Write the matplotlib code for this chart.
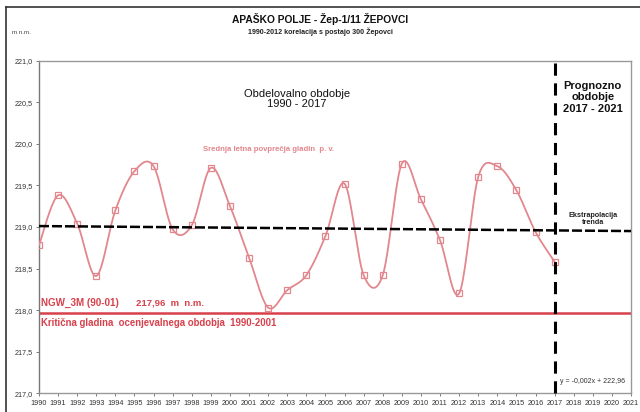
import numpy as np
import matplotlib
matplotlib.use("Agg")
import matplotlib.pyplot as plt
from matplotlib.lines import Line2D

plt.rcParams["font.family"] = ["Liberation Sans", "DejaVu Sans"]

# annual mean groundwater level (m n.m.)
years = list(range(1990, 2018))
levels = [218.78, 219.38, 219.04, 218.41, 219.20, 219.67, 219.73, 218.97, 219.02, 219.71,
          219.25, 218.63, 218.03, 218.24, 218.42, 218.89, 219.52, 218.42, 218.42, 219.76,
          219.33, 218.84, 218.20, 219.60, 219.73, 219.44, 218.94, 218.58]
trend_x = [1990, 2021]
trend_y = [219.01, 218.95]
ngw = 217.96
split_year = 2017
yticks = [217.0, 217.5, 218.0, 218.5, 219.0, 219.5, 220.0, 220.5, 221.0]
xticks = list(range(1990, 2022))

PINK = "#e2878d"
RED = "#d8404c"


def smooth(x, y, n=20):
    # Excel-like smoothed line (Catmull-Rom through the points)
    x = np.asarray(x, float); y = np.asarray(y, float)
    px = np.r_[x[0], x, x[-1]]; py = np.r_[y[0], y, y[-1]]
    xs, ys = [], []
    t = np.linspace(0, 1, n, endpoint=False)
    for i in range(1, len(px) - 2):
        p0, p1, p2, p3 = [np.array([px[j], py[j]]) for j in (i - 1, i, i + 1, i + 2)]
        c1 = p1 + (p2 - p0) / 6; c2 = p2 - (p3 - p1) / 6
        b = ((1 - t) ** 3)[:, None] * p1 + (3 * (1 - t) ** 2 * t)[:, None] * c1 \
            + (3 * (1 - t) * t ** 2)[:, None] * c2 + (t ** 3)[:, None] * p2
        xs.extend(b[:, 0]); ys.extend(b[:, 1])
    xs.append(x[-1]); ys.append(y[-1])
    return xs, ys


fig = plt.figure(figsize=(6.4, 4.12), dpi=100)
ax = fig.add_axes([39 / 640, 1 - 393.3 / 412, (631 - 39) / 640, (393.3 - 60.5) / 412])

sx, sy = smooth(years, levels)
ax.plot(sx, sy, color=PINK, lw=1.3, zorder=3)
ax.plot(years, levels, ls="none", marker="s", ms=4.5, mfc="none", mec=PINK, mew=0.9, zorder=4)

ax.plot(trend_x, trend_y, color="black", lw=1.8, ls=(0, (4, 1.2)), zorder=5)
ax.axhline(ngw, color=RED, lw=1.8, zorder=2)
ax.axvline(split_year, color="black", lw=2.2, ls=(0, (4, 2.5)), zorder=6, clip_on=False)

ax.set_xlim(1990, 2021)
ax.set_ylim(217.0, 221.0)
ax.set_xticks(xticks)
ax.set_xticklabels([str(v) for v in xticks], fontsize=5.2, color="#333")
ax.set_yticks(yticks)
ax.set_yticklabels([f"{v:.1f}".replace(".", ",") for v in yticks], fontsize=5.2, color="#333")
ax.tick_params(length=2.5, width=0.6, color="#666", pad=2)
for sp in ax.spines.values():
    sp.set_color("#999"); sp.set_linewidth(1.0)
ax.spines["left"].set_color("#777")

ax.text(2003.5, 220.54, "Obdelovalno obdobje\n1990 - 2017", ha="center", va="center",
        fontsize=8, linespacing=1.0, color="#111")
ax.text(2002.0, 219.93, "Srednja letna povprečja gladin  p. v.", ha="center", va="center",
        fontsize=5.6, fontweight="bold", color=PINK)
ax.text(2019.0, 220.56, "Prognozno\nobdobje\n2017 - 2021", ha="center", va="center",
        fontsize=8, fontweight="bold", linespacing=1.2, color="#111")
ax.text(2019.0, 219.09, "Ekstrapolacija\ntrenda", ha="center", va="center",
        fontsize=5.2, fontweight="bold", linespacing=1.0, color="#222")
ax.text(2017.3, 217.14, "y = -0,002x + 222,96", ha="left", va="center", fontsize=5, color="#333")
ax.text(1990.1, 218.08, "NGW_3M (90-01)", ha="left", va="center",
        fontsize=7.1, fontweight="bold", color=RED)
ax.text(1995.1, 218.08, "217,96  m  n.m.", ha="left", va="center",
        fontsize=6.8, fontweight="bold", color=RED)
ax.text(1990.1, 217.85, "Kritična gladina  ocenjevalnega obdobja  1990-2001", ha="left", va="center",
        fontsize=6.9, fontweight="bold", color=RED)

fig.text(320 / 640, 1 - 19 / 412, "APAŠKO POLJE - Žep-1/11 ŽEPOVCI", ha="center", va="center",
         fontsize=7.4, fontweight="bold", color="#111")
fig.text(320 / 640, 1 - 32 / 412, "1990-2012 korelacija s postajo 300 Žepovci", ha="center",
         va="center", fontsize=5.1, fontweight="bold", color="#222")
fig.text(12 / 640, 1 - 32 / 412, "m n.m.", ha="left", va="center", fontsize=4.5, color="#444")

# outer frame (top and left edges visible)
fig.add_artist(Line2D([6 / 640, 1], [1 - 7 / 412] * 2, color="#333", lw=1.2, transform=fig.transFigure))
fig.add_artist(Line2D([6 / 640] * 2, [0, 1 - 7 / 412], color="#333", lw=1.2, transform=fig.transFigure))

fig.savefig("out.png", dpi=100)
